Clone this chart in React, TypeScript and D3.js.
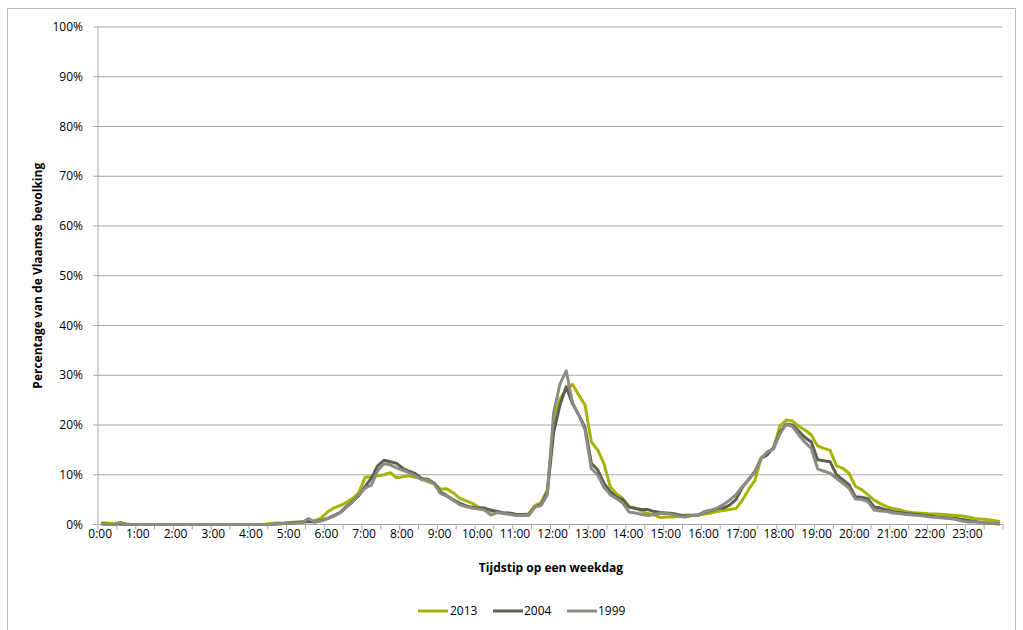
import React from "react";
import * as d3 from "d3";

// 10-minute slots over 24 hours (values in % of population)
const slots: string[] = d3.range(144).map((i) => `${Math.floor(i / 6)}:${String((i % 6) * 10).padStart(2, "0")}`);
const hourLabels = ["0:00","1:00","2:00","3:00","4:00","5:00","6:00","7:00","8:00","9:00","10:00","11:00","12:00","13:00","14:00","15:00","16:00","17:00","18:00","19:00","20:00","21:00","22:00","23:00"];
const yTicks = [0, 0.1, 0.2, 0.3, 0.4, 0.5, 0.6, 0.7, 0.8, 0.9, 1.0];

const values2013 = [
  0.3,0.3,0.1,0,0,0,
  0,0,0,0,0,0,
  0,0,0,0,0,0,
  0,0,0,0,0,0,
  0,0,0,0.2,0.3,0.3,
  0.4,0.5,0.5,0.6,0.8,1.3,
  2.5,3.3,3.8,4.4,5.2,6.4,
  9.5,9.6,9.8,10.0,10.4,9.4,
  9.6,9.8,9.5,9.3,8.6,8.2,
  7.1,7.2,6.4,5.3,4.8,4.3,
  3.5,3.2,2.7,2.6,2.3,2.2,
  2.0,2.0,2.1,3.8,4.4,7.0,
  20.5,25.2,27.2,28.2,26.0,24.0,
  16.6,15.0,12.3,7.6,6.2,5.2,
  3.6,3.3,2.7,2.2,1.9,1.4,
  1.5,1.5,1.7,1.9,1.9,1.9,
  2.1,2.3,2.6,2.8,3.0,3.2,
  4.8,7.0,8.8,13.3,14.5,15.3,
  19.8,21.0,20.8,19.7,19.0,18.0,
  15.8,15.3,14.9,11.8,11.3,10.3,
  7.7,7.0,6.0,4.9,4.2,3.6,
  3.2,3.0,2.6,2.4,2.3,2.2,
  2.1,2.1,2.0,1.9,1.8,1.7,
  1.5,1.2,1.1,1.0,0.8,0.6,
];

const values2004 = [
  0.2,0,0,0.3,0,0,
  0,0,0,0,0,0,
  0,0,0,0,0,0,
  0,0,0,0,0,0,
  0,0,0,0,0.1,0.2,
  0.3,0.4,0.5,0.6,0.5,0.8,
  1.2,1.8,2.4,3.6,4.6,5.8,
  7.6,9.3,11.8,12.9,12.6,12.3,
  11.3,10.7,10.2,9.2,9.1,8.3,
  6.5,5.8,5.0,4.3,3.8,3.5,
  3.3,3.3,2.9,2.6,2.3,2.3,
  2.0,2.0,1.9,3.5,4.0,6.5,
  18.5,24.0,27.7,24.3,22.0,19.5,
  12.3,11.0,8.3,6.6,5.5,5.0,
  3.5,3.2,3.0,3.0,2.6,2.4,
  2.3,2.2,1.9,1.7,1.8,1.9,
  2.5,2.8,3.2,3.3,3.9,5.0,
  7.4,9.0,10.6,13.3,14.0,15.5,
  18.5,20.2,20.0,18.8,17.5,16.6,
  13.0,12.8,12.6,10.0,9.0,8.0,
  5.6,5.5,5.2,3.5,3.3,2.9,
  2.6,2.4,2.2,2.1,2.0,1.8,
  1.7,1.5,1.4,1.3,1.2,1.0,
  0.8,0.6,0.4,0.3,0.2,0.1,
];

const values1999 = [
  0.1,0,0,0.4,0.1,0,
  0,0,0,0,0,0,
  0,0,0,0,0,0,
  0,0,0,0,0,0,
  0,0,0,0,0.1,0.2,
  0.3,0.3,0.4,1.2,0.5,0.7,
  1.2,1.6,2.3,3.4,4.5,6.0,
  7.3,7.9,10.8,12.2,12.0,11.4,
  10.9,10.4,9.8,9.0,8.9,8.2,
  6.2,5.7,4.9,4.0,3.6,3.3,
  3.1,2.9,1.9,2.4,2.2,2.0,
  1.8,1.8,1.8,3.5,3.8,6.0,
  22.5,28.2,30.9,24.5,22.0,19.0,
  11.2,10.0,7.5,6.0,5.2,4.3,
  2.5,2.3,2.0,1.8,2.0,2.2,
  2.2,2.0,1.6,1.5,1.8,1.9,
  2.6,2.9,3.3,4.0,4.9,6.0,
  7.6,9.0,10.6,13.3,14.6,15.2,
  18.2,20.1,19.7,18.0,16.5,15.3,
  11.2,10.7,10.3,9.3,8.3,7.3,
  5.1,5.0,4.6,2.9,2.7,2.6,
  2.3,2.2,2.0,1.9,1.8,1.7,
  1.5,1.4,1.3,1.2,1.0,0.7,
  0.5,0.5,0.4,0.3,0.2,0.1,
];

const seriesNames = ["2013", "2004", "1999"];
const seriesColors = ["#a7b300", "#5b6151", "#8c8c84"];

const FONT = "'Open Sans', 'Noto Sans', Arial, sans-serif";

export default function App() {
  const left = 98, right = 1003, top = 27, bottom = 524.5;
  const x = d3.scaleBand<number>().domain(d3.range(slots.length)).range([left, right]).padding(0);
  const y = d3.scaleLinear().domain([0, 1]).range([bottom, top]);
  const bw = x.bandwidth();
  const cx = (i: number) => (x(i) as number) + bw / 2;
  const line = d3.line<number>().x((_, i) => cx(i)).y((v) => y(v / 100));
  const series = [values2013, values2004, values1999];
  const tickPositions = d3.range(0, slots.length + 1, 3).map((i) => left + i * bw);
  const fmt = d3.format(".0%");

  const legendItems = [
    { x: 418, tx: 450 },
    { x: 493, tx: 524 },
    { x: 567, tx: 598 },
  ];

  return (
    <svg width={1023} height={630} style={{ position: "absolute", left: 0, top: 0, background: "#fff" }} fontFamily={FONT}>
      <rect x={7.5} y={8.5} width={1008} height={640} fill="none" stroke="#bdbdbd" strokeWidth={1} />
      {yTicks.map((t) => (
        <g key={t}>
          {t > 0 && <line x1={left} x2={right} y1={y(t)} y2={y(t)} stroke="#a6a6a6" strokeWidth={1} />}
          <line x1={left - 5} x2={left} y1={y(t)} y2={y(t)} stroke="#a6a6a6" strokeWidth={1} />
          <text x={83} y={y(t)} dy="0.35em" textAnchor="end" fontSize={12} fill="#000">{fmt(t)}</text>
        </g>
      ))}
      <line x1={left} x2={left} y1={top} y2={bottom} stroke="#a6a6a6" strokeWidth={1} />
      <line x1={left} x2={right} y1={bottom} y2={bottom} stroke="#a6a6a6" strokeWidth={1} />
      {tickPositions.map((p, k) => (
        <line key={k} x1={p} x2={p} y1={bottom} y2={bottom + 5} stroke="#a6a6a6" strokeWidth={1} />
      ))}
      {hourLabels.map((h, k) => (
        <text key={h} x={cx(k * 6) - 1} y={538} textAnchor="middle" fontSize={12} fill="#000">{h}</text>
      ))}
      <text x={551} y={572} textAnchor="middle" fontSize={12} fontWeight="bold" fill="#000">Tijdstip op een weekdag</text>
      <text transform={`translate(42, ${(top + bottom) / 2}) rotate(-90)`} textAnchor="middle" fontSize={12} fontWeight="bold" fill="#000">Percentage van de Vlaamse bevolking</text>
      {series.map((s, k) => (
        <path key={seriesNames[k]} d={line(s) || ""} fill="none" stroke={seriesColors[k]} strokeWidth={3} strokeLinejoin="round" />
      ))}
      {seriesNames.map((n, k) => (
        <g key={n}>
          <line x1={legendItems[k].x} x2={legendItems[k].x + 30} y1={611} y2={611} stroke={seriesColors[k]} strokeWidth={3} />
          <text x={legendItems[k].tx} y={611} dy="0.35em" fontSize={12} fill="#000">{n}</text>
        </g>
      ))}
    </svg>
  );
}
